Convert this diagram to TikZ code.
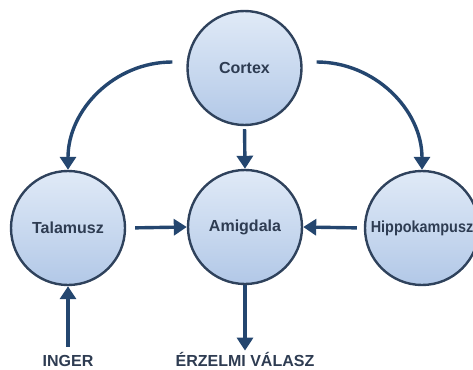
\documentclass[tikz,border=0pt]{standalone}
\usepackage{fontspec}
\setmainfont{Liberation Sans}
\usetikzlibrary{arrows.meta,calc}
\definecolor{ringcol}{HTML}{2F425C}
\definecolor{arrcol}{HTML}{24466F}
\definecolor{txtcol}{HTML}{2E3C52}
\definecolor{filltop}{HTML}{E0EAF7}
\definecolor{fillbot}{HTML}{B2C8E7}
\begin{document}
\begin{tikzpicture}[x=1pt,y=-1pt,
  region/.style={circle,draw=ringcol,line width=2.4pt,minimum size=114pt,inner sep=0pt,
    top color=filltop,bottom color=fillbot,text=txtcol,font=\fontsize{16}{18}\selectfont\bfseries},
  lbl/.style={inner sep=0pt,text=txtcol,font=\fontsize{16}{18}\selectfont\bfseries},
  conn/.style={draw=arrcol,line width=3.4pt,-{Triangle[width=16pt,length=13pt]}}]
\useasboundingbox (0,0) rectangle (473,369);
\node[region] (cortex) at (244.5,68) {Cortex};
\node[region] (amig) at (245,227) {Amigdala};
\node[region] (tal) at (68,228) {Talamusz};
\node[region] (hip) at (422,228) {\scalebox{0.9}[1]{Hippokampusz}};
\node[lbl,anchor=base] (inger) at (68,366) {INGER};
\node[lbl,anchor=base] (valasz) at (245,366) {ÉRZELMI VÁLASZ};
\coordinate (cl) at ($(cortex.west)+(-14,-6)$);
\coordinate (cr) at ($(cortex.east)+(14,-6)$);
\draw[conn] (cl) .. controls +(-58,0) and +(0,-60) .. (tal.north);
\draw[conn] (cr) .. controls +(58,0) and +(0,-60) .. (hip.north);
\draw[conn,shorten <=3pt] (cortex.south) -- (amig.north);
\draw[conn,shorten <=9pt] (tal.east) -- (amig.west);
\draw[conn,shorten <=7pt] (hip.west) -- (amig.east);
\draw[conn,shorten <=8pt] (inger.north) -- (tal.south);
\draw[conn,shorten >=1pt] (amig.south) -- (valasz.north);
\end{tikzpicture}
\end{document}
